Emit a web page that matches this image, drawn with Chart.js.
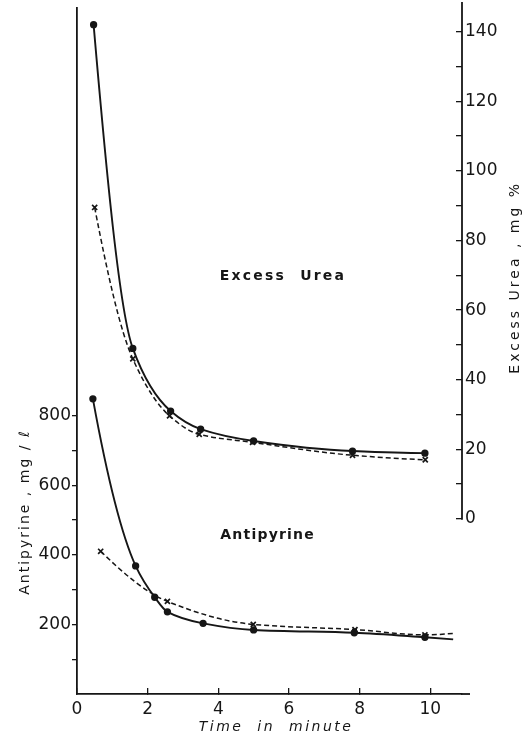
<!DOCTYPE html>
<html>
<head>
<meta charset="utf-8">
<script src="https://cdn.jsdelivr.net/npm/chart.js@4.4.0/dist/chart.umd.min.js"></script>
<style>
  html, body { margin: 0; padding: 0; background: #fff; }
  #wrap { width: 530px; height: 739px; }
</style>
</head>
<body>
<div id="wrap"><canvas id="mainChart" width="530" height="739"></canvas></div>
<script>
const ink = '#161616';
const face = '"DejaVu Sans", sans-serif';

// tick marks and labels
const xTickValues = [0, 2, 4, 6, 8, 10];
const leftTickValues = [100, 200, 300, 400, 500, 600, 700, 800];
const leftTickLabels = [200, 400, 600, 800];
const rightTickValues = [0, 10, 20, 30, 40, 50, 60, 70, 80, 90, 100, 110, 120, 130, 140];
const rightTickLabels = [0, 20, 40, 60, 80, 100, 120, 140];

// Excess urea, mg % (right axis)
const ureaSolidTime = [0.47, 1.58, 2.65, 3.5, 5.0, 7.8, 9.85];
const ureaSolidValue = [142, 49, 31, 25.8, 22.4, 19.5, 18.9];
const ureaDashTime = [0.5, 1.58, 2.62, 3.46, 4.97, 7.8, 9.86];
const ureaDashValue = [89.5, 46, 29.6, 24.3, 22, 18.3, 17];

// Antipyrine, mg/l (left axis); last entry of each is the curve end, no marker
const antiSolidTime = [0.45, 1.66, 2.2, 2.56, 3.57, 5.0, 7.85, 9.85, 10.65];
const antiSolidValue = [848, 368, 278, 236, 203, 184, 176, 163, 157];
const antiDashTime = [0.67, 2.56, 4.99, 7.87, 9.85, 10.65];
const antiDashValue = [410, 266, 200, 185, 170, 174];

const pairs = (xs, ys) => xs.map((x, i) => ({ x: x, y: ys[i] }));
const noEndMarker = (r) => (c) => c.dataIndex === c.dataset.data.length - 1 ? 0 : r;

function fixSize(w, h) {
    return function(scale) {
        if (w !== null) scale.width = w;
        if (h !== null) scale.height = h;
        scale.paddingTop = 0; scale.paddingBottom = 0;
        scale.paddingLeft = 0; scale.paddingRight = 0;
    };
}

// shape-preserving (Fritsch-Carlson / pchip) tangents, closer to the hand drawn decay curves
function pchipSlopes(pts) {
    const n = pts.length;
    const h = [], d = [], m = new Array(n).fill(0);
    for (let i = 0; i < n - 1; i++) {
        h.push(pts[i + 1].x - pts[i].x);
        d.push((pts[i + 1].y - pts[i].y) / h[i]);
    }
    for (let i = 1; i < n - 1; i++) {
        if (d[i - 1] * d[i] <= 0) continue;
        const w1 = 2 * h[i] + h[i - 1], w2 = h[i] + 2 * h[i - 1];
        m[i] = (w1 + w2) / (w1 / d[i - 1] + w2 / d[i]);
    }
    const ends = [[0, 0, 1], [n - 1, n - 2, n - 3]];
    ends.forEach(([k, a, b]) => {
        if (n < 3) { m[k] = d[Math.min(k, n - 2)]; return; }
        let v = ((2 * h[a] + h[b]) * d[a] - h[a] * d[b]) / (h[a] + h[b]);
        if (Math.sign(v) !== Math.sign(d[a])) v = 0;
        else if (Math.sign(d[a]) !== Math.sign(d[b]) && Math.abs(v) > Math.abs(3 * d[a])) v = 3 * d[a];
        m[k] = v;
    });
    return m;
}

const smoothCurves = {
    id: 'smoothCurves',
    beforeDatasetDraw(chart, args) {
        const meta = args.meta;
        const raw = chart.data.datasets[args.index].data;
        const xs = meta.xScale, ys = meta.yScale;
        meta.dataset.updateControlPoints(chart.chartArea, 'x');
        const m = pchipSlopes(raw);
        meta.data.forEach((pt, i) => {
            if (i > 0) {
                const h = raw[i].x - raw[i - 1].x;
                pt.cp1x = xs.getPixelForValue(raw[i].x - h / 3);
                pt.cp1y = ys.getPixelForValue(raw[i].y - m[i] * h / 3);
            }
            if (i < raw.length - 1) {
                const h = raw[i + 1].x - raw[i].x;
                pt.cp2x = xs.getPixelForValue(raw[i].x + h / 3);
                pt.cp2y = ys.getPixelForValue(raw[i].y + m[i] * h / 3);
            }
        });
        delete meta.dataset._path;
    }
};

function spacedText(ctx, str, x, y, font, spacing, rot) {
    ctx.save();
    ctx.translate(x, y);
    if (rot) ctx.rotate(rot);
    ctx.font = font;
    ctx.letterSpacing = spacing + 'px';
    ctx.fillStyle = ink;
    ctx.textAlign = 'center';
    ctx.textBaseline = 'middle';
    ctx.fillText(str, spacing / 2, 0);
    ctx.restore();
}

const extras = {
    id: 'extras',
    afterDraw(chart) {
        const { ctx, chartArea, scales } = chart;
        ctx.save();
        ctx.strokeStyle = ink;
        ctx.lineWidth = 1.8;
        ctx.beginPath();
        ctx.moveTo(chartArea.right, scales.yU.getPixelForValue(0) + 0.9);
        ctx.lineTo(chartArea.right, chartArea.top - 6);
        ctx.stroke();
        ctx.beginPath();
        ctx.moveTo(chartArea.right - 1, chartArea.bottom);
        ctx.lineTo(chartArea.right + 8, chartArea.bottom);
        ctx.stroke();
        ctx.restore();

        spacedText(ctx, 'Excess  Urea', scales.x.getPixelForValue(5.8), scales.yU.getPixelForValue(69.8),
            'bold 14px ' + face, 2.2, 0);
        spacedText(ctx, 'Antipyrine', scales.x.getPixelForValue(5.38), scales.yA.getPixelForValue(457),
            'bold 14px ' + face, 1.2, 0);
        spacedText(ctx, 'Antipyrine , mg / \u2113', 25, scales.yA.getPixelForValue(520),
            '14px ' + face, 2.0, -Math.PI / 2);
        spacedText(ctx, 'Excess Urea , mg %', 515, scales.yU.getPixelForValue(69),
            '14px ' + face, 3.0, -Math.PI / 2);
        spacedText(ctx, 'Time  in  minute', scales.x.getPixelForValue(5.6), 727,
            'italic 14px ' + face, 2.5, 0);
    }
};

const context = document.getElementById('mainChart').getContext('2d');

const mainChart = new Chart(context, {
    type: 'line',
    data: {
        datasets: [
            {
                label: 'Excess urea',
                data: pairs(ureaSolidTime, ureaSolidValue),
                yAxisID: 'yU',
                borderColor: ink, backgroundColor: ink,
                borderWidth: 1.9,
                pointRadius: 2.7, pointStyle: 'circle',
                cubicInterpolationMode: 'monotone'
            },
            {
                label: 'Excess urea (x)',
                data: pairs(ureaDashTime, ureaDashValue),
                yAxisID: 'yU',
                borderColor: ink, backgroundColor: ink,
                borderWidth: 1.5, borderDash: [5, 3],
                pointRadius: 3.6, pointStyle: 'crossRot', pointBorderWidth: 1.7,
                cubicInterpolationMode: 'monotone'
            },
            {
                label: 'Antipyrine',
                data: pairs(antiSolidTime, antiSolidValue),
                yAxisID: 'yA',
                borderColor: ink, backgroundColor: ink,
                borderWidth: 1.9,
                pointRadius: noEndMarker(2.7), pointStyle: 'circle',
                cubicInterpolationMode: 'monotone'
            },
            {
                label: 'Antipyrine (x)',
                data: pairs(antiDashTime, antiDashValue),
                yAxisID: 'yA',
                borderColor: ink, backgroundColor: ink,
                borderWidth: 1.5, borderDash: [5, 3],
                pointRadius: noEndMarker(3.6), pointStyle: 'crossRot', pointBorderWidth: 1.7,
                cubicInterpolationMode: 'monotone'
            }
        ]
    },
    options: {
        responsive: false,
        animation: false,
        devicePixelRatio: 1,
        layout: { padding: { left: 0, right: 0, top: 8, bottom: 0 } },
        plugins: { legend: { display: false }, tooltip: { enabled: false } },
        scales: {
            x: {
                type: 'linear', position: 'bottom', min: 0, max: 10.9,
                afterBuildTicks: (s) => { s.ticks = xTickValues.map(v => ({ value: v })); },
                afterFit: fixSize(null, 45),
                border: { color: ink, width: 1.8 },
                grid: { drawOnChartArea: false, tickLength: -6, color: ink, lineWidth: 1.3 },
                ticks: { color: ink, font: { family: face, size: 17 }, padding: 11, autoSkip: false, maxRotation: 0 }
            },
            yA: {
                type: 'linear', position: 'left', min: 0, max: 1971,
                afterBuildTicks: (s) => { s.ticks = leftTickValues.map(v => ({ value: v })); },
                afterFit: fixSize(77, null),
                border: { color: ink, width: 1.8 },
                grid: { drawOnChartArea: false, tickLength: 5, color: ink, lineWidth: 1.3 },
                ticks: {
                    color: ink, font: { family: face, size: 17 }, padding: 1, autoSkip: false,
                    callback: (v) => leftTickLabels.includes(v) ? String(v) : ''
                }
            },
            yU: {
                type: 'linear', position: 'right', min: -50.3, max: 146.8,
                afterBuildTicks: (s) => { s.ticks = rightTickValues.map(v => ({ value: v })); },
                afterFit: fixSize(68, null),
                border: { display: false },
                grid: { drawOnChartArea: false, tickLength: -6, color: ink, lineWidth: 1.3 },
                ticks: {
                    color: ink, font: { family: face, size: 17 }, padding: 9, autoSkip: false,
                    callback: (v) => rightTickLabels.includes(v) ? String(v) : ''
                }
            }
        }
    },
    plugins: [smoothCurves, extras]
});
</script>
</body>
</html>
